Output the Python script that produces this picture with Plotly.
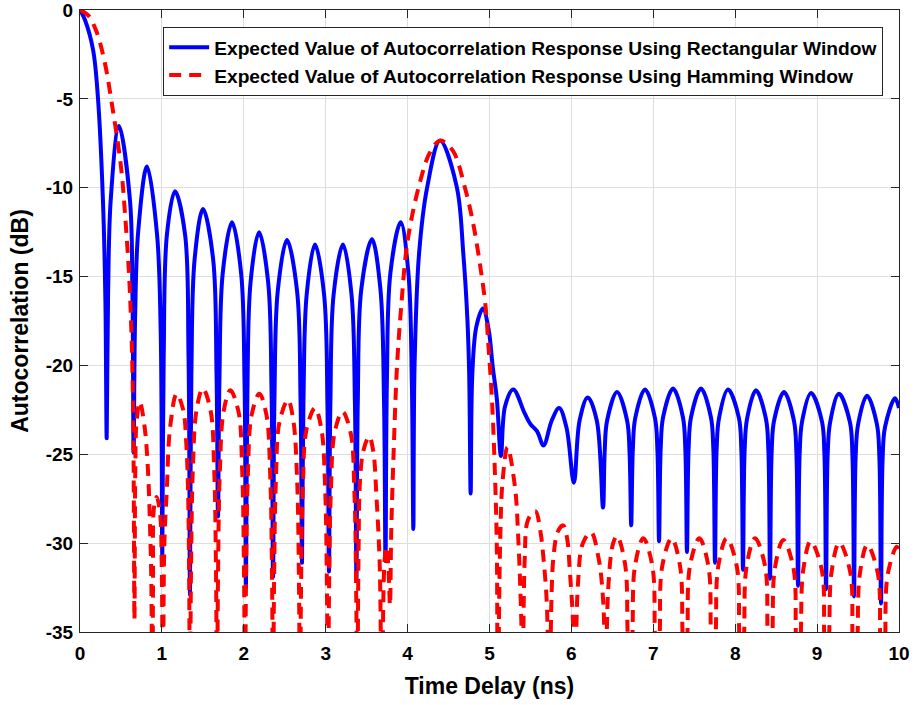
import plotly.graph_objects as go

# Expected autocorrelation response, rectangular window (delay in ns, level in dB)
rect_delay = [
    0.000, 0.060, 0.160, 0.220, 0.280, 0.310, 0.326,
    0.343, 0.375, 0.476, 0.610, 0.640, 0.655,
    0.672, 0.710, 0.818, 0.940, 0.985, 1.005,
    1.022, 1.062, 1.160, 1.282, 1.325, 1.343,
    1.360, 1.400, 1.502, 1.625, 1.667, 1.685,
    1.702, 1.743, 1.856, 1.967, 2.009, 2.027,
    2.044, 2.083, 2.186, 2.297, 2.339, 2.357,
    2.374, 2.415, 2.527, 2.650, 2.693, 2.711,
    2.728, 2.768, 2.869, 2.980, 3.022, 3.040,
    3.057, 3.097, 3.211, 3.315, 3.357, 3.375,
    3.392, 3.435, 3.565, 3.668, 3.712, 3.730,
    3.747, 3.790, 3.915, 4.010, 4.052, 4.070,
    4.085, 4.140, 4.240, 4.396, 4.600, 4.680, 4.730, 4.752, 4.770,
    4.790, 4.840, 4.920, 4.990, 5.040, 5.090, 5.140,
    5.190, 5.290, 5.430, 5.500, 5.580, 5.660,
    5.760, 5.850, 5.940, 6.030,
    6.100, 6.200, 6.310, 6.386,
    6.406, 6.436, 6.557, 6.680, 6.710, 6.730,
    6.750, 6.780, 6.899, 7.020, 7.050, 7.070,
    7.090, 7.120, 7.241, 7.361, 7.391, 7.411,
    7.431, 7.461, 7.582, 7.703, 7.733, 7.753,
    7.773, 7.803, 7.912, 8.045, 8.075, 8.095,
    8.115, 8.145, 8.254, 8.375, 8.405, 8.425,
    8.445, 8.475, 8.596, 8.717, 8.747, 8.767,
    8.787, 8.817, 8.926, 9.059, 9.089, 9.109,
    9.129, 9.159, 9.267, 9.401, 9.431, 9.451,
    9.471, 9.501, 9.609, 9.730, 9.760, 9.780,
    9.800, 9.830, 9.951, 10.000,
]
rect_db = [
    0.0, -0.55, -2.25, -5.0, -10.7, -16.3, -24.1,
    -16.0, -10.7, -6.53, -10.7, -16.0, -24.9,
    -17.5, -12.5, -8.8, -12.6, -18.0, -30.8,
    -19.5, -12.6, -10.2, -12.6, -19.5, -32.9,
    -20.5, -14.0, -11.2, -14.0, -20.5, -28.5,
    -21.0, -14.8, -11.95, -14.8, -21.0, -32.5,
    -21.5, -15.3, -12.5, -15.3, -21.5, -31.9,
    -22.0, -15.8, -12.94, -15.8, -22.0, -31.1,
    -22.2, -16.0, -13.2, -16.0, -22.2, -31.6,
    -22.2, -16.0, -13.2, -16.0, -22.2, -32.1,
    -22.0, -15.7, -12.9, -15.7, -22.0, -31.0,
    -21.0, -14.8, -11.95, -14.8, -21.0, -29.2,
    -20.0, -13.7, -9.95, -7.35, -9.95, -13.7, -17.4, -20.5, -27.2,
    -20.5, -17.8, -16.8, -18.0, -20.1, -21.9, -25.1,
    -22.3, -21.35, -22.7, -23.3, -23.7, -24.5,
    -23.1, -22.4, -23.5, -26.6,
    -23.1, -21.8, -23.1, -28.0,
    -24.9, -23.1, -21.5, -23.1, -24.9, -29.0,
    -24.75, -22.95, -21.35, -22.95, -24.75, -29.9,
    -24.7, -22.9, -21.3, -22.9, -24.7, -30.5,
    -24.7, -22.9, -21.3, -22.9, -24.7, -31.1,
    -24.75, -22.95, -21.35, -22.95, -24.75, -31.5,
    -24.8, -23.0, -21.4, -23.0, -24.8, -32.0,
    -24.9, -23.1, -21.5, -23.1, -24.9, -32.4,
    -24.95, -23.15, -21.55, -23.15, -24.95, -32.6,
    -25.0, -23.2, -21.6, -23.2, -25.0, -33.0,
    -25.1, -23.3, -21.7, -23.3, -25.1, -33.4,
    -25.25, -23.45, -21.85, -22.4,
]

# Expected autocorrelation response, Hamming window
hamm_delay = [
    0.000, 0.100, 0.200, 0.300, 0.400, 0.500, 0.550, 0.600, 0.630, 0.650, 0.665,
    0.675, 0.690, 0.730, 0.790, 0.830, 0.855, 0.870, 0.885,
    0.892, 0.903, 0.936, 0.977, 0.997, 1.012,
    1.030, 1.060, 1.100, 1.180, 1.260, 1.300, 1.320, 1.333, 1.343,
    1.355, 1.378, 1.423, 1.500, 1.593, 1.638, 1.661, 1.673,
    1.685, 1.708, 1.753, 1.835, 1.935, 1.980, 2.003, 2.015,
    2.027, 2.050, 2.095, 2.190, 2.277, 2.322, 2.345, 2.357,
    2.369, 2.392, 2.437, 2.540, 2.606, 2.651, 2.674, 2.686,
    2.698, 2.721, 2.766, 2.870, 2.948, 2.993, 3.016, 3.028,
    3.040, 3.063, 3.108, 3.205, 3.305, 3.350, 3.373, 3.385,
    3.400, 3.420, 3.460, 3.530, 3.580, 3.620, 3.660, 3.685,
    3.715, 3.740, 3.765, 3.785,
    3.800, 3.830, 3.870, 3.920, 4.000, 4.150, 4.270, 4.396, 4.550, 4.700,
    4.800, 4.880, 4.950, 4.990, 5.030, 5.070, 5.090, 5.100,
    5.130, 5.160, 5.220, 5.310, 5.350, 5.390, 5.405,
    5.430, 5.470, 5.560, 5.620, 5.660, 5.700, 5.730,
    5.780, 5.840, 5.900, 5.950, 5.980, 6.020, 6.040,
    6.080, 6.140, 6.240, 6.330, 6.390, 6.415,
    6.450, 6.510, 6.557, 6.656, 6.686, 6.716,
    6.746, 6.776, 6.878, 6.989, 7.019, 7.049,
    7.079, 7.109, 7.224, 7.327, 7.357, 7.387,
    7.417, 7.447, 7.562, 7.673, 7.703, 7.733,
    7.763, 7.793, 7.896, 8.019, 8.049, 8.079,
    8.109, 8.139, 8.242, 8.365, 8.395, 8.425,
    8.455, 8.485, 8.587, 8.711, 8.741, 8.771,
    8.801, 8.831, 8.921, 9.057, 9.087, 9.117,
    9.147, 9.177, 9.271, 9.403, 9.433, 9.463,
    9.493, 9.523, 9.613, 9.741, 9.771, 9.801,
    9.831, 9.861, 9.972, 10.000,
]
hamm_db = [
    0.0, -0.3, -1.2, -2.9, -5.6, -8.8, -11.5, -15.0, -18.5, -23.0, -34.3,
    -26.0, -23.2, -22.05, -23.5, -25.9, -29.1, -31.9, -40.0,
    -32.0, -28.0, -27.4, -28.3, -31.0, -40.0,
    -30.0, -27.0, -23.5, -21.6, -22.5, -24.6, -27.2, -32.0, -40.0,
    -31.8, -25.8, -22.5, -21.3, -22.5, -25.8, -31.8, -40.0,
    -31.9, -25.9, -22.6, -21.4, -22.6, -25.9, -31.9, -40.0,
    -32.1, -26.1, -22.8, -21.6, -22.8, -26.1, -32.1, -40.0,
    -32.45, -26.45, -23.15, -21.95, -23.15, -26.45, -32.45, -40.0,
    -32.9, -26.9, -23.6, -22.4, -23.6, -26.9, -32.9, -40.0,
    -33.1, -27.1, -23.8, -22.6, -23.8, -27.1, -33.1, -40.0,
    -31.0, -26.4, -24.8, -24.0, -24.8, -27.4, -31.3, -40.0,
    -31.3, -30.2, -31.3, -33.5,
    -29.4, -24.8, -20.1, -16.8, -13.0, -9.7, -8.05, -7.35, -7.9, -10.0,
    -12.0, -14.2, -16.6, -19.1, -21.9, -26.6, -30.5, -40.0,
    -30.0, -26.5, -24.6, -26.8, -29.6, -34.7, -40.0,
    -30.9, -28.7, -28.2, -29.3, -30.9, -33.4, -40.0,
    -30.8, -29.3, -29.0, -29.8, -31.5, -34.5, -40.0,
    -32.3, -30.0, -29.4, -30.8, -33.4, -40.0,
    -32.5, -30.0, -29.6, -31.2, -35.0, -40.0,
    -35.1, -31.3, -29.73, -31.3, -35.1, -40.0,
    -35.1, -31.3, -29.73, -31.3, -35.1, -40.0,
    -35.1, -31.3, -29.73, -31.3, -35.1, -40.0,
    -35.1, -31.3, -29.73, -31.3, -35.1, -40.0,
    -35.1, -31.3, -29.73, -31.3, -35.1, -40.0,
    -35.2, -31.4, -29.83, -31.4, -35.2, -40.0,
    -35.3, -31.5, -29.9, -31.5, -35.3, -40.0,
    -35.4, -31.6, -29.97, -31.6, -35.4, -40.0,
    -35.5, -31.7, -30.1, -31.7, -35.5, -40.0,
    -35.6, -31.8, -30.2, -30.5,
]

x_tick_vals = [0, 1, 2, 3, 4, 5, 6, 7, 8, 9, 10]
x_tick_text = ["0", "1", "2", "3", "4", "5", "6", "7", "8", "9", "10"]
y_tick_vals = [-35, -30, -25, -20, -15, -10, -5, 0]
y_tick_text = ["-35", "-30", "-25", "-20", "-15", "-10", "-5", "0"]

series_names = [
    "Expected Value of Autocorrelation Response Using Rectangular Window",
    "Expected Value of Autocorrelation Response Using Hamming Window",
]

FONT = "Liberation Sans, Arial, Helvetica, sans-serif"
AXIS_COLOR = "#262626"
GRID_COLOR = "#dedede"

fig = go.Figure()
fig.add_trace(go.Scatter(
    x=rect_delay, y=rect_db, mode="lines", name=series_names[0],
    line=dict(color="#0000ff", width=4, shape="spline", smoothing=1.0),
))
fig.add_trace(go.Scatter(
    x=hamm_delay, y=hamm_db, mode="lines", name=series_names[1],
    line=dict(color="#ff0000", width=4, dash="12px,8px", shape="spline", smoothing=1.0),
))

axis_common = dict(
    automargin=False, ticklabeloverflow="allow",
    showline=True, linecolor=AXIS_COLOR, linewidth=1.2, mirror="ticks",
    ticks="inside", ticklen=8, tickwidth=1.2, tickcolor=AXIS_COLOR,
    showgrid=True, gridcolor=GRID_COLOR, gridwidth=1, zeroline=False,
    tickfont=dict(family=FONT, size=19, color="#000000", weight="bold"),
)

fig.update_xaxes(
    range=[0, 10], tickmode="array", tickvals=x_tick_vals, ticktext=x_tick_text,
    ticklabelstandoff=4,
    title=dict(text="Time Delay (ns)", standoff=14,
               font=dict(family=FONT, size=23, color="#000000", weight="bold")),
    **axis_common,
)
fig.update_yaxes(
    range=[-35, 0], tickmode="array", tickvals=y_tick_vals, ticktext=y_tick_text,
    ticklabelstandoff=2,
    title=dict(text="Autocorrelation (dB)", standoff=10,
               font=dict(family=FONT, size=23, color="#000000", weight="bold")),
    **axis_common,
)

fig.update_layout(
    width=914, height=705,
    margin=dict(l=80, r=15, t=10, b=73),
    paper_bgcolor="#ffffff", plot_bgcolor="#ffffff",
    font=dict(family=FONT, color="#000000"),
    showlegend=True,
    legend=dict(
        x=0.1013, y=0.9727, xanchor="left", yanchor="top",
        bgcolor="#ffffff", bordercolor="#262626", borderwidth=1.2,
        font=dict(family=FONT, size=19.2, color="#000000", weight="bold"),
        tracegroupgap=0, itemwidth=40,
        entrywidth=717, entrywidthmode="pixels",
    ),
)

fig.write_html("out.html")
